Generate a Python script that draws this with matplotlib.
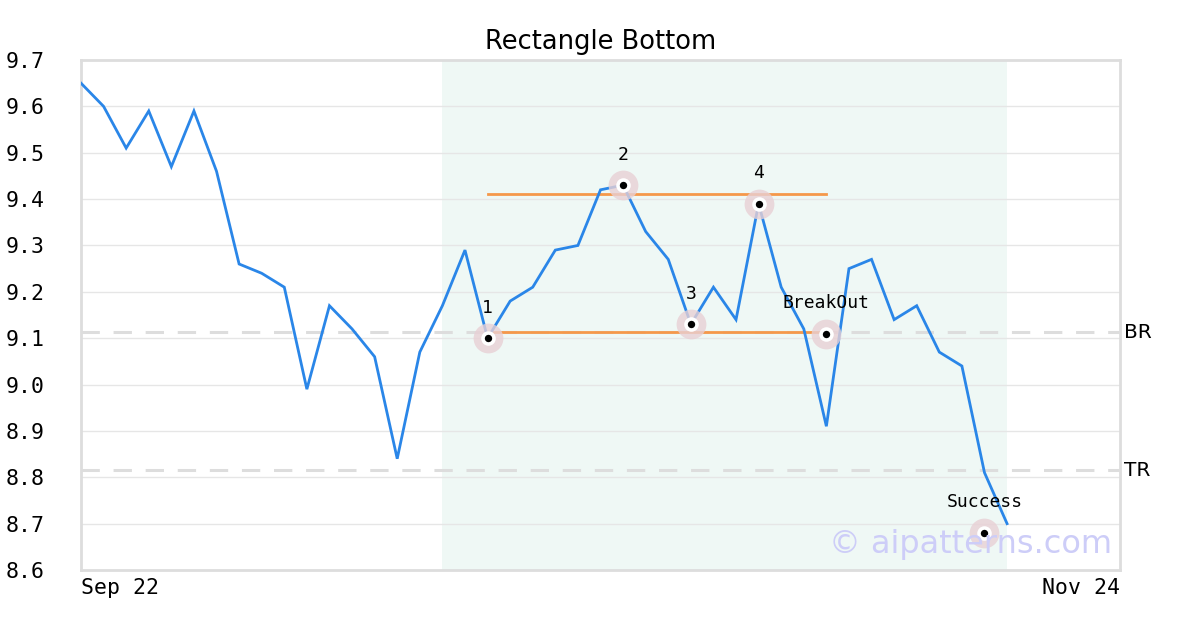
import matplotlib
matplotlib.use("Agg")
import matplotlib.pyplot as plt

prices = [9.65, 9.60, 9.51, 9.59, 9.47, 9.59, 9.46, 9.26, 9.24, 9.21,
          8.99, 9.17, 9.12, 9.06, 8.84, 9.07, 9.17, 9.29, 9.10, 9.18,
          9.21, 9.29, 9.30, 9.42, 9.43, 9.33, 9.27, 9.13, 9.21, 9.14,
          9.39, 9.21, 9.12, 8.91, 9.25, 9.27, 9.14, 9.17, 9.07, 9.04,
          8.81, 8.70]
x_end = 46
x_labels = ["Sep 22", "Nov 24"]
shade_range = (16, 41)

top_line = 9.41
bottom_line = 9.1125
rect_range = (18, 33)
br_level = 9.1125
tr_level = 8.815

point_labels = ["1", "2", "3", "4", "BreakOut", "Success"]
point_x = [18, 24, 27, 30, 33, 40]
point_y = [9.10, 9.43, 9.13, 9.39, 9.11, 8.68]

y_ticks = [8.6, 8.7, 8.8, 8.9, 9.0, 9.1, 9.2, 9.3, 9.4, 9.5, 9.6, 9.7]

fig = plt.figure(figsize=(12, 6.3), dpi=100)
ax = fig.add_axes([81/1200, 1 - 570/630, (1120-81)/1200, (570-60)/630])

ax.set_xlim(0, x_end)
ax.set_ylim(8.6, 9.7)

ax.axvspan(shade_range[0], shade_range[1], color="#eff8f5", zorder=0, lw=0)
ax.set_yticks(y_ticks)
ax.grid(axis="y", color="#e6e6e6", lw=1, zorder=1)
ax.grid(axis="x", visible=False)

ax.axhline(br_level, color="#dddddd", lw=2.2, ls=(0, (6, 4.5)), zorder=2)
ax.axhline(tr_level, color="#dddddd", lw=2.2, ls=(0, (6, 4.5)), zorder=2)

ax.plot(range(len(prices)), prices, color="#2a86e8", lw=2.0, zorder=4,
        solid_joinstyle="miter")

ax.plot(rect_range, [top_line, top_line], color="#f5984a", lw=2.0, zorder=3)
ax.plot(rect_range, [bottom_line, bottom_line], color="#f5984a", lw=2.0, zorder=3)

ax.scatter(point_x, point_y, s=460, color="#e8d0d5", alpha=0.8, zorder=5, lw=0)
ax.scatter(point_x, point_y, s=110, color="white", zorder=6, lw=0)
ax.scatter(point_x, point_y, s=28, color="black", zorder=7, lw=0)
for lx, ly, lt in zip(point_x, point_y, point_labels):
    ax.annotate(lt, (lx, ly), xytext=(0, 22), textcoords="offset points",
                ha="center", va="center", fontsize=13, family="DejaVu Sans Mono",
                zorder=8)

ax.text(1.004, (br_level - 8.6) / 1.1, "BR", transform=ax.transAxes, fontsize=14.5,
        va="center", ha="left")
ax.text(1.004, (tr_level - 8.6) / 1.1, "TR", transform=ax.transAxes, fontsize=14.5,
        va="center", ha="left")

ax.text(0.992, 0.05, "© aipatterns.com", transform=ax.transAxes, fontsize=23,
        color="#cdcdf8", ha="right", va="center", zorder=9)

for sp in ax.spines.values():
    sp.set_color("#dddddd")
    sp.set_linewidth(2)

ax.set_xticks([0, x_end])
ax.set_xticklabels(x_labels, family="DejaVu Sans Mono", fontsize=15.5)
xt = ax.get_xticklabels()
xt[0].set_ha("left")
xt[1].set_ha("right")
ax.tick_params(axis="both", length=0)
ax.tick_params(axis="x", pad=6)
ax.tick_params(axis="y", pad=26)
for lab in ax.get_yticklabels():
    lab.set_family("DejaVu Sans Mono")
    lab.set_fontsize(15.5)

ax.set_title("Rectangle Bottom", fontsize=18.5, pad=8)

fig.savefig("out.png", dpi=100)
